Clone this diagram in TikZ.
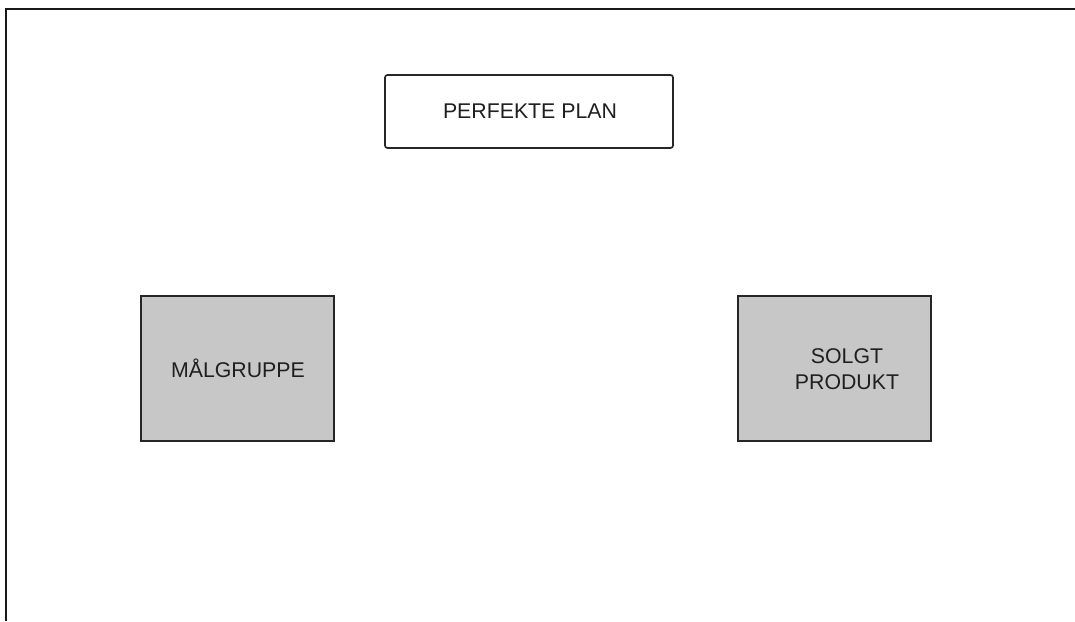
\documentclass[tikz,border=0pt]{standalone}
\usepackage{fontspec}
\setmainfont{Liberation Sans}
\begin{document}
\begin{tikzpicture}[x=1pt,y=-1pt,
  boxtext/.style={font=\fontsize{21.3}{25.5}\selectfont, text=black!88, align=center},
  planbox/.style={draw=black!85, line width=1.7pt, rounded corners=2.5pt, fill=white},
  greybox/.style={draw=black!85, line width=1.7pt, fill=black!22}]
  \useasboundingbox (0,0) rectangle (1075,621);
  % outer frame (top and left edges only)
  \draw[line width=2pt, black!90] (6,621) -- (6,9) -- (1075,9);
  % boxes
  \draw[planbox] (385,75) rectangle (673,148);
  \node[boxtext] (plan) at (530,111) {PERFEKTE PLAN};
  \draw[greybox] (141,296) rectangle (334,441);
  \node[boxtext] (maal) at (238,368) {MÅLGRUPPE};
  \draw[greybox] (738,296) rectangle (931,441);
  \node[boxtext] (solgt) at (847,369) {SOLGT\\PRODUKT};
\end{tikzpicture}
\end{document}
